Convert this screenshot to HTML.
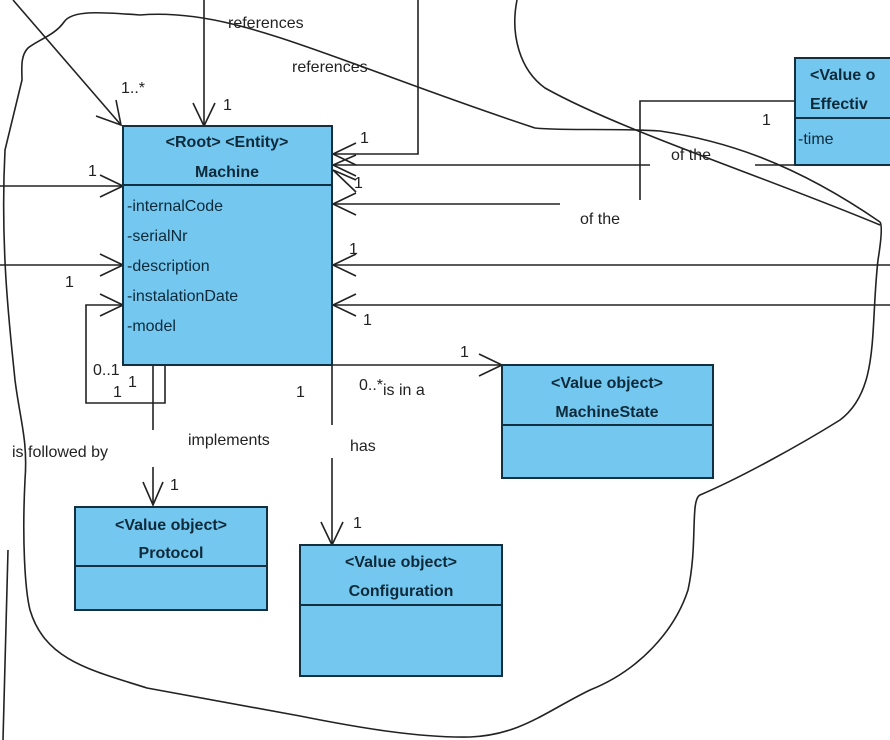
<!DOCTYPE html>
<html><head><meta charset="utf-8"><style>
html,body{margin:0;padding:0;background:#fff;}
svg{display:block;}
text{font-family:"Liberation Sans",Arial,sans-serif;font-size:16px;fill:#222;}
.b{font-weight:bold;fill:#0e2a3a;}
.a{fill:#0e2a3a;}
</style></head><body>
<svg width="890" height="740" viewBox="0 0 890 740" xmlns="http://www.w3.org/2000/svg">
<g fill="none" stroke="#222" stroke-width="1.6">
<!-- freeform boundary curves -->
<path d="M140,15 C100,12 72,10 64,22 C55,35 38,40 28,48 C20,56 22,70 22,80 L5,150 C0,250 10,330 15,380 C20,420 28,440 25,480 C22,540 25,590 30,610 C45,660 90,670 147,688 L300,716 C360,728 420,738 470,737 C520,735 545,712 590,690 C640,670 675,630 688,590 C698,545 690,500 700,495 C740,478 800,445 840,420 C880,390 870,330 878,260 C882,235 882,225 880,222"/>
<path d="M140,15 C200,10 260,30 330,55 C400,80 450,100 535,128 C560,131 620,128 660,131 C720,140 790,160 880,222"/>
<path d="M517,0 C510,35 520,70 545,88 C620,130 760,175 880,225"/>
<path d="M8,550 L3,740"/>
<!-- connectors -->
<path d="M13,0 L121,125"/><path d="M96,116 L121,125 L116,100"/>
<path d="M204,0 L204,126"/><path d="M193,103 L204,126 L215,103"/>
<path d="M418,0 L418,154 L333,154"/><path d="M356,143 L333,154 L356,165"/>
<path d="M333,165 L650,165 M755,165 L795,165"/><path d="M356,155 L333,165 L356,176 M356,180 L333,170 L356,192"/>
<path d="M640,200 L640,101 L795,101"/>
<path d="M333,204 L560,204"/><path d="M356,193 L333,204 L356,215"/>
<path d="M333,265 L890,265"/><path d="M356,254 L333,265 L356,276"/>
<path d="M333,305 L890,305"/><path d="M356,294 L333,305 L356,316"/>
<path d="M0,186 L123,186"/><path d="M100,175 L123,186 L100,197"/>
<path d="M0,265 L123,265"/><path d="M100,254 L123,265 L100,276"/>
<path d="M123,305 L86,305 L86,403 L165,403 L165,365"/><path d="M100,294 L123,305 L100,316"/>
<path d="M153,365 L153,430 M153,467 L153,505"/><path d="M143,482 L153,505 L163,482"/>
<path d="M332,365 L332,425 M332,458 L332,545"/><path d="M321,522 L332,545 L343,522"/>
<path d="M332,365 L502,365"/><path d="M479,354 L502,365 L479,376"/>
</g>
<!-- Machine -->
<rect x="123" y="126" width="209" height="239" fill="#74c7ef" stroke="#12303f" stroke-width="2"/>
<line x1="123" y1="185" x2="332" y2="185" stroke="#12303f" stroke-width="2"/>
<text x="227" y="147" text-anchor="middle" class="b">&lt;Root&gt; &lt;Entity&gt;</text>
<text x="227" y="177" text-anchor="middle" class="b">Machine</text>
<text x="127" y="211" class="a">-internalCode</text>
<text x="127" y="241" class="a">-serialNr</text>
<text x="127" y="271" class="a">-description</text>
<text x="127" y="301" class="a">-instalationDate</text>
<text x="127" y="331" class="a">-model</text>
<!-- MachineState -->
<rect x="502" y="365" width="211" height="113" fill="#74c7ef" stroke="#12303f" stroke-width="2"/>
<line x1="502" y1="425" x2="713" y2="425" stroke="#12303f" stroke-width="2"/>
<text x="607" y="388" text-anchor="middle" class="b">&lt;Value object&gt;</text>
<text x="607" y="417" text-anchor="middle" class="b">MachineState</text>
<!-- Protocol -->
<rect x="75" y="507" width="192" height="103" fill="#74c7ef" stroke="#12303f" stroke-width="2"/>
<line x1="75" y1="566" x2="267" y2="566" stroke="#12303f" stroke-width="2"/>
<text x="171" y="530" text-anchor="middle" class="b">&lt;Value object&gt;</text>
<text x="171" y="558" text-anchor="middle" class="b">Protocol</text>
<!-- Configuration -->
<rect x="300" y="545" width="202" height="131" fill="#74c7ef" stroke="#12303f" stroke-width="2"/>
<line x1="300" y1="605" x2="502" y2="605" stroke="#12303f" stroke-width="2"/>
<text x="401" y="567" text-anchor="middle" class="b">&lt;Value object&gt;</text>
<text x="401" y="596" text-anchor="middle" class="b">Configuration</text>
<!-- Effective -->
<rect x="795" y="58" width="100" height="107" fill="#74c7ef" stroke="#12303f" stroke-width="2"/>
<line x1="795" y1="118" x2="895" y2="118" stroke="#12303f" stroke-width="2"/>
<text x="810" y="80" class="b">&lt;Value o</text>
<text x="810" y="109" class="b">Effectiv</text>
<text x="798" y="144" class="a">-time</text>
<!-- labels -->
<text x="228" y="28">references</text>
<text x="292" y="72">references</text>
<text x="121" y="93">1..*</text>
<text x="223" y="110">1</text>
<text x="360" y="143">1</text>
<text x="354" y="188">1</text>
<text x="671" y="160">of  the</text>
<text x="580" y="224">of the</text>
<text x="762" y="125">1</text>
<text x="349" y="254">1</text>
<text x="363" y="325">1</text>
<text x="88" y="176">1</text>
<text x="65" y="287">1</text>
<text x="93" y="375">0..1</text>
<text x="113" y="397">1</text>
<text x="128" y="387">1</text>
<text x="12" y="457">is followed by</text>
<text x="188" y="445">implements</text>
<text x="170" y="490">1</text>
<text x="296" y="397">1</text>
<text x="350" y="451">has</text>
<text x="353" y="528">1</text>
<text x="460" y="357">1</text>
<text x="359" y="390">0..*</text>
<text x="383" y="395">is in a</text>
</svg>
</body></html>
